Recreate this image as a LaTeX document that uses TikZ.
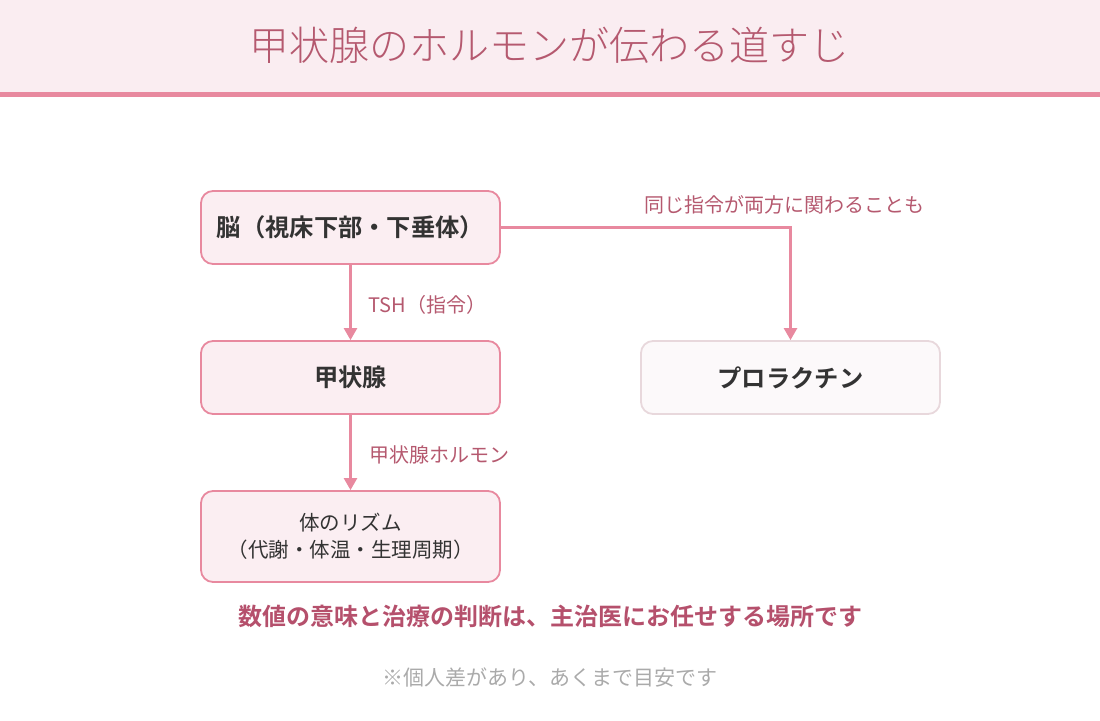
\documentclass[tikz,border=0pt]{standalone}
\usepackage{fontspec}
\setmainfont{Noto Sans CJK JP}
\newfontfamily\jpbold{Noto Sans CJK JP Bold}
\newfontfamily\jplight{Noto Sans CJK JP Light}
\usetikzlibrary{arrows.meta}
\definecolor{hdrbg}{HTML}{FAEDF1}
\definecolor{pinkline}{HTML}{E8899F}
\definecolor{pinktext}{HTML}{B5596F}
\definecolor{boxfill}{HTML}{FBEEF2}
\definecolor{greyfill}{HTML}{FCF9FA}
\definecolor{greyline}{HTML}{E8D8DC}
\definecolor{darktext}{HTML}{333333}
\definecolor{notetext}{HTML}{AAAAAA}
\definecolor{boldpink}{HTML}{B5506C}
\begin{document}
\begin{tikzpicture}[x=1pt,y=-1pt,
  mainbox/.style={draw=pinkline,line width=1.8pt,fill=boxfill,rounded corners=12pt,
    minimum width=299pt,minimum height=73pt,inner sep=0pt,text=darktext,align=center},
  greybox/.style={draw=greyline,line width=1.8pt,fill=greyfill,rounded corners=12pt,
    minimum width=299pt,minimum height=73pt,inner sep=0pt,text=darktext,align=center},
  boldlbl/.style={font=\jpbold\fontsize{24.3}{28}\selectfont},
  conn/.style={draw=pinkline,line width=2.5pt,-{Triangle[width=13pt,length=12pt]}},
  lbl/.style={text=pinktext,font=\fontsize{20}{24}\selectfont,inner sep=0pt}]
\useasboundingbox (0,0) rectangle (1100,720);
\fill[hdrbg] (0,0) rectangle (1100,92);
\fill[pinkline] (0,92) rectangle (1100,97);
\node[text=pinktext,font=\jplight\fontsize{40}{44}\selectfont] (title) at (549,45) {甲状腺のホルモンが伝わる道すじ};

\node[mainbox,boldlbl] (brain) at (350.5,227.5) {脳（視床下部・下垂体）};
\node[mainbox,boldlbl] (thy) at (350.5,377.5) {甲状腺};
\node[mainbox,minimum height=91pt,font=\fontsize{20.5}{27}\selectfont] (body) at (350.5,536.5) {体のリズム\\（代謝・体温・生理周期）};
\node[greybox,boldlbl] (prl) at (790.5,377.5) {プロラクチン};

\draw[conn] (brain.south) -- (thy.north) node[lbl,midway,anchor=west,xshift=17pt,yshift=-2pt] (l1) {TSH（指令）};
\draw[conn] (thy.south) -- (body.north) node[lbl,midway,anchor=west,xshift=18pt,yshift=-2pt] (l2) {甲状腺ホルモン};
\coordinate (bend) at (790.5,227.5);
\draw[conn] (brain.east) -- (bend) -- (prl.north);
\node[lbl] (l3) at (784,205) {同じ指令が両方に関わることも};

\node[text=boldpink,font=\jpbold\fontsize{24}{28}\selectfont] (msg) at (550,616) {数値の意味と治療の判断は、主治医にお任せする場所です};
\node[text=notetext,font=\fontsize{21}{25}\selectfont] (note) at (550,677) {※個人差があり、あくまで目安です};
\end{tikzpicture}
\end{document}
